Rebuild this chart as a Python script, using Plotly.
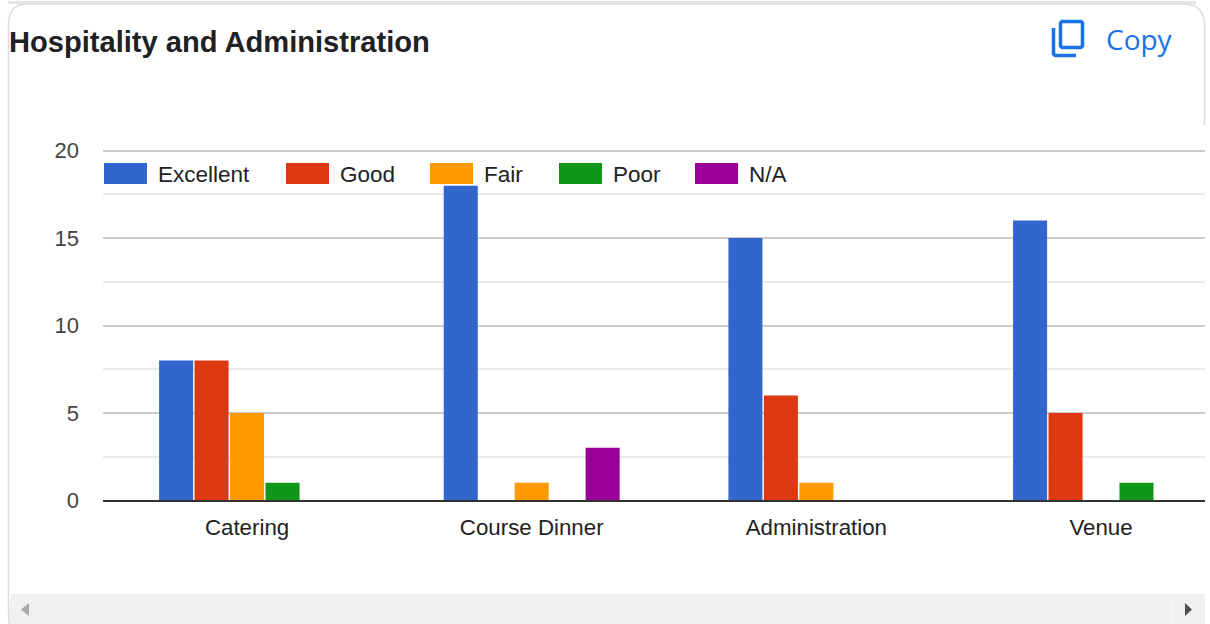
import plotly.graph_objects as go

W, H = 1210, 624

title_text = "Hospitality and Administration"
copy_text = "Copy"
categories = ["Catering", "Course Dinner", "Administration", "Venue"]
series_names = ["Excellent", "Good", "Fair", "Poor", "N/A"]
excellent = [8, 18, 15, 16]
good = [8, 0, 6, 5]
fair = [5, 1, 1, 0]
poor = [1, 0, 0, 1]
na = [0, 3, 0, 0]
series_values = [excellent, good, fair, poor, na]
colors = ["#3366cc", "#dc3912", "#ff9900", "#109618", "#990099"]
y_ticks = [0, 5, 10, 15, 20]


def px(x):
    return x / W


def py(y):
    return 1 - y / H


def path(points, close=False):
    d = " ".join(("M" if i == 0 else "L") + f" {px(x):.5f} {py(y):.5f}" for i, (x, y) in enumerate(points))
    return d + (" Z" if close else "")


def rect(x0, y0, x1, y1, fill, layer="above", line=None):
    return dict(type="rect", xref="paper", yref="paper", x0=px(x0), x1=px(x1), y0=py(y0), y1=py(y1),
                fillcolor=fill, line=dict(width=0) if line is None else line, layer=layer)


def poly(points, fill=None, stroke=None, width=0, close=True):
    return dict(type="path", xref="paper", yref="paper", path=path(points, close),
                fillcolor=fill if fill else "rgba(0,0,0,0)",
                line=dict(color=stroke if stroke else "rgba(0,0,0,0)", width=width), layer="above")


fig = go.Figure()
for name, vals, col in zip(series_names, series_values, colors):
    fig.add_trace(go.Bar(name=name, x=categories, y=vals, marker=dict(color=col, line=dict(width=0))))

shapes = []
annotations = []

# card frame
shapes.append(rect(8, 1, 1196, 4, "#e3e4e7"))
shapes.append(poly([(8.5, 612), (9, 622), (10, 624)], stroke="#dadce0", width=1.5, close=False))
shapes.append(poly([(8.5, 612), (8.5, 22), (10, 14), (14, 8), (19, 5), (26, 4), (1186, 4), (1195, 6), (1200, 10), (1203, 15), (1204.5, 22), (1204.5, 125)],
                   stroke="#dadce0", width=1.5, close=False))

# legend
leg_x = [104, 286, 430, 559, 695]
for x, name, col in zip(leg_x, series_names, colors):
    shapes.append(rect(x, 163, x + 43, 184, col))
    annotations.append(dict(text=name, x=px(x + 52), y=py(174), xref="paper", yref="paper", xanchor="left",
                            yanchor="middle", showarrow=False,
                            font=dict(family="Liberation Sans", size=22.5, color="#222222")))

# title
annotations.append(dict(text=f"<b>{title_text}</b>", x=px(7), y=py(42), xref="paper", yref="paper", xanchor="left",
                        yanchor="middle", showarrow=False,
                        font=dict(family="Liberation Sans", size=29.1, color="#202124")))
# copy button
annotations.append(dict(text=copy_text, x=px(1104), y=py(39), xref="paper", yref="paper", xanchor="left",
                        yanchor="middle", showarrow=False,
                        font=dict(family="Open Sans", size=28, color="#1a73e8")))
shapes.append(poly([(1062, 21.5), (1081, 21.5), (1082.5, 23), (1082.5, 46), (1081, 47.5), (1062, 47.5), (1060.5, 46), (1060.5, 23)],
                   stroke="#1a73e8", width=3.5))
shapes.append(poly([(1053.5, 28), (1053.5, 54), (1055, 55.5), (1076, 55.5)], stroke="#1a73e8", width=3.5, close=False))

# scrollbar
shapes.append(rect(10, 594, 1205, 624, "#f0f0f0"))
shapes.append(rect(1171, 594, 1172, 624, "#f5f5f5"))
shapes.append(poly([(29, 603), (21, 609.5), (29, 616)], fill="#a8a8a8"))
shapes.append(poly([(1185, 603), (1192, 609.5), (1185, 616)], fill="#505050"))

fig.update_layout(
    width=W, height=H, autosize=False,
    margin=dict(l=0, r=0, t=0, b=0, pad=0),
    paper_bgcolor="white", plot_bgcolor="white",
    barmode="group", bargap=0.377, bargroupgap=0.04,
    showlegend=False,
    shapes=shapes, annotations=annotations,
    xaxis=dict(domain=[px(103), px(1205)], range=[-0.506, 3.3653], showgrid=False, showline=True,
               linecolor="#333333", linewidth=2, ticks="", ticklabelstandoff=6,
               tickfont=dict(family="Liberation Sans", size=22.3, color="#222222"), automargin=False, fixedrange=True),
    yaxis=dict(domain=[py(500.3), py(148.95)], range=[0, 20.1], tickvals=y_ticks, showgrid=True, gridcolor="#cccccc",
               gridwidth=1.5, zeroline=False, showline=False, ticks="", ticklabelstandoff=23,
               minor=dict(dtick=2.5, showgrid=True, gridcolor="#ebebeb", gridwidth=1.5),
               tickfont=dict(family="Liberation Sans", size=22, color="#444444"), automargin=False, fixedrange=True),
)

fig.write_html("out.html", config=dict(displayModeBar=False),
               post_script="document.body.style.margin='0';document.body.style.overflow='hidden';")
